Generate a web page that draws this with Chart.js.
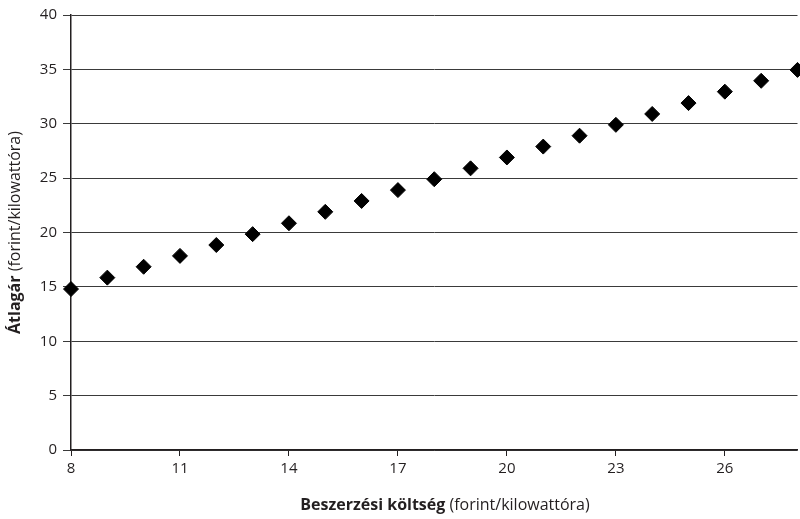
<!DOCTYPE html>
<html>
<head>
<meta charset="utf-8">
<script src="https://cdn.jsdelivr.net/npm/chart.js@4"></script>
<style>
  html, body { margin: 0; background: #fff; overflow: hidden; }
  #wrap { width: 800px; height: 519px; overflow: hidden; }
</style>
</head>
<body>
<div id="wrap"><canvas id="chart" width="806" height="519"></canvas></div>
<script>
// Adatok (leolvasva)
const costs = [8, 9, 10, 11, 12, 13, 14, 15, 16, 17, 18, 19, 20, 21, 22, 23, 24, 25, 26, 27, 28];
const prices = [14.8, 15.85, 16.85, 17.85, 18.85, 19.85, 20.85, 21.9, 22.9, 23.9, 24.9, 25.9, 26.9, 27.9, 28.9, 29.9, 30.9, 31.9, 32.95, 33.95, 34.95];
const xTicks = [8, 11, 14, 17, 20, 23, 26];
const xTitle = ['Beszerzési költség', ' (forint/kilowattóra)'];
const yTitle = ['Átlagár', ' (forint/kilowattóra)'];

const fontFamily = '"Open Sans", "Noto Sans", sans-serif';

// tengelycímek: félkövér + normál rész egy sorban
const axisTitles = {
    id: 'axisTitles',
    afterDraw(chart) {
        const ctx = chart.ctx;
        const area = chart.chartArea;
        function drawMixed(parts, cx, cy, rot) {
            ctx.save();
            ctx.translate(cx, cy);
            ctx.rotate(rot);
            ctx.fillStyle = '#231f20';
            ctx.textBaseline = 'middle';
            ctx.font = 'bold 16px ' + fontFamily;
            const w1 = ctx.measureText(parts[0]).width;
            ctx.font = '16px ' + fontFamily;
            const w2 = ctx.measureText(parts[1]).width;
            let x = -(w1 + w2) / 2;
            ctx.font = 'bold 16px ' + fontFamily;
            ctx.fillText(parts[0], x, 0);
            ctx.font = '16px ' + fontFamily;
            ctx.fillText(parts[1], x + w1, 0);
            ctx.restore();
        }
        drawMixed(xTitle, 445, 505, 0);
        drawMixed(yTitle, 15, (area.top + area.bottom) / 2, -Math.PI / 2);
    }
};

const ctx = document.getElementById('chart').getContext('2d');
new Chart(ctx, {
    type: 'scatter',
    data: {
        datasets: [{
            data: costs.map((c, i) => ({ x: c, y: prices[i] })),
            pointStyle: 'rectRot',
            pointRadius: 7.5,
            pointHoverRadius: 7.5,
            backgroundColor: '#000',
            borderColor: '#000',
            borderWidth: 1,
            clip: false
        }]
    },
    options: {
        responsive: false,
        animation: false,
        layout: { padding: { top: 15, right: 3, left: 0, bottom: 0 } },
        plugins: {
            legend: { display: false },
            tooltip: { enabled: false }
        },
        scales: {
            x: {
                type: 'linear',
                min: 8,
                max: 28,
                afterBuildTicks(scale) {
                    scale.ticks = xTicks.map(v => ({ value: v }));
                },
                afterFit(scale) { scale.height = 69; },
                grid: {
                    drawOnChartArea: false,
                    drawTicks: true,
                    tickLength: 6,
                    color: '#231f20'
                },
                border: { display: true, color: '#231f20', width: 1.5 },
                ticks: {
                    color: '#231f20',
                    font: { family: fontFamily, size: 15 },
                    padding: 4,
                    maxRotation: 0
                }
            },
            y: {
                min: 0,
                max: 40,
                afterFit(scale) { scale.width = 71; },
                grid: {
                    color: '#3a3a3a',
                    lineWidth: 1,
                    drawTicks: true,
                    tickLength: 8
                },
                border: { display: true, color: '#231f20', width: 1.5 },
                ticks: {
                    stepSize: 5,
                    color: '#231f20',
                    font: { family: fontFamily, size: 15 },
                    padding: 6
                }
            }
        }
    },
    plugins: [axisTitles]
});
</script>
</body>
</html>
